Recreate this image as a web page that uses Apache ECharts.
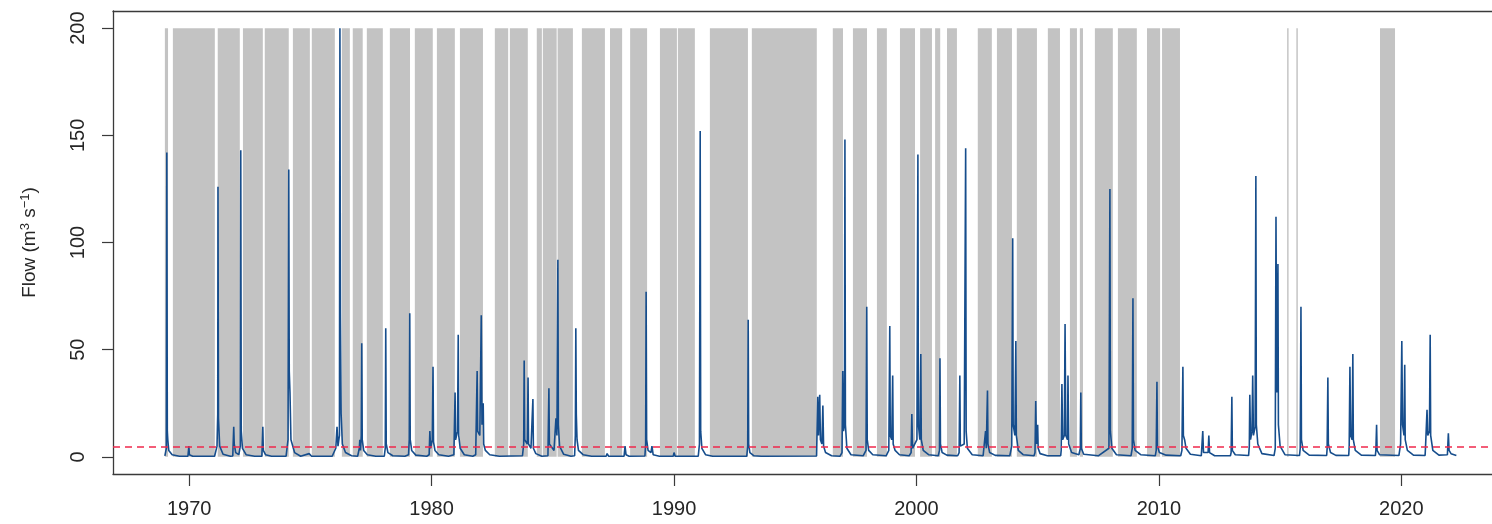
<!DOCTYPE html>
<html>
<head>
<meta charset="utf-8">
<script src="https://cdn.jsdelivr.net/npm/echarts@6/dist/echarts.min.js"></script>
<style>
  html, body { margin: 0; padding: 0; background: #fff; }
  #chart { width: 1492px; height: 524px; }
</style>
</head>
<body>
<div id="chart"></div>
<script>
// Shaded periods, as [start, end] in decimal years
const BANDS = [
  [1969.00, 1969.13], [1969.33, 1971.06], [1971.18, 1972.09], [1972.22, 1973.04],
  [1973.12, 1974.11], [1974.28, 1974.98], [1975.06, 1976.01], [1976.30, 1976.63],
  [1976.75, 1977.16], [1977.33, 1977.99], [1978.28, 1979.11], [1979.31, 1980.05],
  [1980.22, 1980.96], [1981.17, 1982.12], [1982.61, 1983.16], [1983.23, 1983.97],
  [1984.34, 1984.55], [1984.59, 1985.16], [1985.20, 1985.83], [1986.20, 1987.15],
  [1987.36, 1987.86], [1988.19, 1988.89], [1989.42, 1990.12], [1990.16, 1990.86],
  [1991.48, 1993.05], [1993.21, 1995.89], [1996.55, 1996.97], [1997.38, 1997.96],
  [1998.37, 1998.78], [1999.32, 1999.94], [2000.15, 2000.64], [2000.77, 2000.98],
  [2001.26, 2001.67], [2002.53, 2003.11], [2003.32, 2003.94], [2004.14, 2004.97],
  [2005.42, 2005.92], [2006.33, 2006.62], [2006.74, 2006.87], [2007.36, 2008.10],
  [2008.31, 2009.09], [2009.51, 2010.05], [2010.13, 2010.87], [2015.29, 2015.35],
  [2015.67, 2015.73], [2019.12, 2019.74]
];
const BAND_TOP = 200;

// Daily flow record (m3/s) as [decimal year, flow]
const FLOW = [
  [1969.00, 0.5], [1969.06, 4], [1969.08, 142], [1969.10, 12], [1969.12, 8], [1969.16, 3], [1969.30, 1], [1969.60, 0.3],
  [1969.95, 0.3], [1969.99, 5], [1970.01, 1], [1970.15, 0.3],
  [1971.05, 0.3], [1971.15, 5], [1971.18, 20], [1971.19, 126], [1971.21, 18], [1971.26, 5], [1971.40, 1.2], [1971.70, 0.3],
  [1971.80, 0.4], [1971.84, 14], [1971.86, 6], [1971.92, 2], [1972.05, 1], [1972.11, 5], [1972.13, 143], [1972.15, 12], [1972.20, 4], [1972.35, 1], [1972.70, 0.3],
  [1973.00, 0.3], [1973.04, 14], [1973.06, 3], [1973.15, 1], [1973.40, 0.3],
  [1974.00, 0.3], [1974.08, 8], [1974.11, 134], [1974.13, 40], [1974.16, 30], [1974.20, 8], [1974.35, 2], [1974.60, 0.3],
  [1974.95, 1.5], [1975.05, 0.3],
  [1975.90, 0.3], [1976.05, 4], [1976.10, 14], [1976.14, 5], [1976.20, 10], [1976.22, 200], [1976.24, 67], [1976.27, 20], [1976.32, 6], [1976.45, 2], [1976.70, 0.5],
  [1976.95, 0.3], [1977.02, 4], [1977.04, 8], [1977.07, 3], [1977.10, 10], [1977.12, 53], [1977.14, 8], [1977.20, 3], [1977.35, 1], [1977.70, 0.3],
  [1978.05, 0.3], [1978.09, 4], [1978.11, 60], [1978.13, 6], [1978.20, 2], [1978.40, 0.5], [1978.90, 0.3],
  [1979.05, 1], [1979.08, 8], [1979.10, 67], [1979.12, 8], [1979.18, 3], [1979.35, 0.8], [1979.80, 0.3],
  [1979.90, 1], [1979.93, 12], [1979.96, 4], [1980.03, 8], [1980.06, 42], [1980.08, 7], [1980.14, 3], [1980.30, 1], [1980.70, 0.3],
  [1980.92, 1], [1980.97, 30], [1980.99, 8], [1981.07, 12], [1981.10, 57], [1981.12, 10], [1981.18, 4], [1981.35, 1], [1981.70, 0.3],
  [1981.82, 1], [1981.88, 40], [1981.90, 12], [1981.99, 10], [1982.05, 66], [1982.08, 15], [1982.13, 25], [1982.15, 6], [1982.22, 3], [1982.40, 1], [1982.80, 0.3],
  [1983.75, 0.5], [1983.80, 6], [1983.82, 45], [1983.84, 8], [1983.95, 6], [1983.98, 37], [1984.00, 6], [1984.10, 4], [1984.18, 27], [1984.20, 4], [1984.30, 1.5], [1984.55, 0.3],
  [1984.80, 0.5], [1984.84, 32], [1984.86, 6], [1985.05, 3], [1985.13, 18], [1985.17, 10], [1985.21, 92], [1985.23, 15], [1985.28, 5], [1985.45, 1.2], [1985.75, 0.3],
  [1985.90, 0.5], [1985.93, 10], [1985.95, 60], [1985.97, 20], [1986.00, 8], [1986.06, 3], [1986.25, 1], [1986.60, 0.3],
  [1987.20, 0.3], [1987.24, 1.5], [1987.30, 0.3], [1987.94, 0.3], [1987.98, 5], [1988.02, 1], [1988.15, 0.3],
  [1988.80, 0.4], [1988.83, 6], [1988.85, 77], [1988.87, 8], [1988.93, 3], [1989.05, 2], [1989.09, 5], [1989.14, 1], [1989.40, 0.3],
  [1989.97, 0.3], [1990.00, 2], [1990.05, 0.3],
  [1991.00, 0.3], [1991.05, 6], [1991.08, 152], [1991.10, 12], [1991.15, 4], [1991.30, 1], [1991.60, 0.3],
  [1993.00, 0.3], [1993.04, 5], [1993.06, 64], [1993.08, 6], [1993.13, 2], [1993.30, 0.5], [1993.60, 0.3],
  [1995.88, 0.4], [1995.93, 28], [1995.96, 10], [1996.01, 29], [1996.04, 8], [1996.10, 6], [1996.14, 24], [1996.17, 5], [1996.25, 2], [1996.50, 0.5], [1996.85, 0.3],
  [1996.93, 2], [1996.96, 40], [1996.99, 12], [1997.03, 15], [1997.05, 148], [1997.07, 15], [1997.13, 4], [1997.30, 1], [1997.80, 0.5],
  [1997.92, 3], [1997.95, 70], [1997.97, 8], [1998.03, 3], [1998.20, 1], [1998.75, 0.5],
  [1998.86, 3], [1998.90, 61], [1998.92, 10], [1998.98, 8], [1999.02, 38], [1999.04, 6], [1999.12, 3], [1999.30, 1], [1999.70, 0.5],
  [1999.78, 2], [1999.81, 20], [1999.84, 4], [2000.02, 8], [2000.06, 141], [2000.08, 15], [2000.14, 8], [2000.18, 48], [2000.20, 8], [2000.28, 3], [2000.50, 1], [2000.90, 0.5],
  [2000.95, 3], [2000.97, 46], [2000.99, 6], [2001.06, 2], [2001.25, 0.8], [2001.70, 0.5],
  [2001.76, 2], [2001.79, 38], [2001.81, 5], [2001.97, 6], [2002.03, 144], [2002.05, 12], [2002.10, 4], [2002.30, 1], [2002.75, 0.5],
  [2002.82, 1], [2002.85, 12], [2002.88, 4], [2002.93, 31], [2002.95, 6], [2003.02, 2], [2003.25, 0.7], [2003.85, 0.5],
  [2003.93, 5], [2003.97, 102], [2003.99, 15], [2004.06, 10], [2004.10, 54], [2004.12, 10], [2004.20, 3], [2004.40, 1], [2004.85, 0.5],
  [2004.89, 2], [2004.92, 26], [2004.95, 6], [2005.00, 15], [2005.02, 4], [2005.10, 1.5], [2005.40, 0.5], [2005.95, 0.5],
  [2005.97, 3], [2006.00, 34], [2006.03, 8], [2006.10, 10], [2006.13, 62], [2006.16, 10], [2006.23, 8], [2006.25, 38], [2006.28, 6], [2006.40, 2],
  [2006.70, 1], [2006.76, 4], [2006.78, 30], [2006.80, 4], [2006.90, 1.2], [2007.50, 0.5],
  [2007.94, 4], [2007.98, 125], [2008.00, 12], [2008.06, 4], [2008.25, 1], [2008.85, 0.5],
  [2008.90, 4], [2008.93, 74], [2008.95, 8], [2009.02, 3], [2009.25, 1], [2009.85, 0.5],
  [2009.89, 3], [2009.92, 35], [2009.94, 5], [2010.02, 2], [2010.30, 0.8], [2010.90, 0.5],
  [2010.95, 3], [2010.99, 42], [2011.01, 10], [2011.06, 8], [2011.12, 4], [2011.30, 1.2], [2011.75, 0.5],
  [2011.78, 1], [2011.81, 12], [2011.84, 2], [2012.03, 2], [2012.06, 10], [2012.09, 2], [2012.30, 0.5], [2012.95, 0.5],
  [2012.98, 2], [2013.01, 28], [2013.03, 3], [2013.15, 1], [2013.70, 0.6],
  [2013.73, 5], [2013.75, 29], [2013.78, 8], [2013.84, 12], [2013.87, 38], [2013.90, 10], [2013.97, 14], [2014.00, 131], [2014.02, 15], [2014.08, 6], [2014.25, 1.5], [2014.75, 0.6],
  [2014.80, 4], [2014.83, 112], [2014.86, 30], [2014.91, 90], [2014.93, 15], [2015.00, 5], [2015.20, 1], [2015.80, 0.6],
  [2015.83, 4], [2015.86, 70], [2015.88, 8], [2015.95, 3], [2016.20, 0.8], [2016.92, 0.6],
  [2016.94, 4], [2016.97, 37], [2016.99, 6], [2017.08, 2], [2017.30, 0.7], [2017.83, 0.6],
  [2017.85, 5], [2017.88, 42], [2017.91, 10], [2017.97, 8], [2018.00, 48], [2018.02, 8], [2018.10, 3], [2018.35, 0.8], [2018.93, 0.6],
  [2018.95, 3], [2018.98, 15], [2019.00, 3], [2019.10, 1], [2019.90, 0.6],
  [2019.97, 6], [2020.02, 54], [2020.05, 15], [2020.11, 10], [2020.14, 43], [2020.16, 8], [2020.25, 3], [2020.50, 0.8], [2020.98, 0.6],
  [2021.00, 5], [2021.06, 22], [2021.09, 10], [2021.16, 12], [2021.19, 57], [2021.21, 10], [2021.30, 3], [2021.55, 0.8],
  [2021.90, 1], [2021.94, 11], [2021.97, 3], [2022.05, 1.5], [2022.27, 0.6]
];

// Low-flow threshold (m3/s)
const THRESHOLD = 4.7;

// Axis tick positions
const X_TICKS = [1970, 1980, 1990, 2000, 2010, 2020];
const Y_TICKS = [0, 50, 100, 150, 200];

const FONT = '"Liberation Sans", Arial, Helvetica, sans-serif';
const INK = '#262626';
const FRAME = '#3a3a3a';

const X_MIN = 1966.86, X_MAX = 2023.74;

const chart = echarts.init(document.getElementById('chart'), null, { renderer: 'canvas' });

chart.setOption({
  animation: false,
  backgroundColor: '#ffffff',
  grid: { left: 113, top: 11, bottom: 50, right: 0, show: false, containLabel: false },
  xAxis: [
    {
      type: 'value', position: 'bottom',
      min: X_MIN, max: X_MAX,
      axisLine: { show: true, onZero: false, lineStyle: { color: FRAME, width: 1.3 } },
      splitLine: { show: false },
      axisTick: {
        show: true, customValues: X_TICKS, length: 12, inside: false,
        lineStyle: { color: FRAME, width: 1.2 }
      },
      axisLabel: {
        customValues: X_TICKS, margin: 25,
        fontFamily: FONT, fontSize: 20, color: INK,
        formatter: v => String(v)
      }
    },
    {
      // top edge of the plot frame
      type: 'value', position: 'top',
      min: X_MIN, max: X_MAX,
      axisLine: { show: true, onZero: false, lineStyle: { color: FRAME, width: 1.3 } },
      axisTick: { show: false }, axisLabel: { show: false }, splitLine: { show: false }
    }
  ],
  yAxis: {
    type: 'value',
    min: -8, max: 208,
    axisLine: { show: true, onZero: false, lineStyle: { color: FRAME, width: 1.3 } },
    splitLine: { show: false },
    axisTick: {
      show: true, customValues: Y_TICKS, length: 11, inside: false,
      lineStyle: { color: FRAME, width: 1.2 }
    },
    axisLabel: {
      customValues: Y_TICKS, rotate: 90, margin: 25,
      fontFamily: FONT, fontSize: 20, color: INK,
      formatter: v => String(v)
    },
    name: 'Flow (m{sup|3} s{sup|−1})',
    nameLocation: 'middle',
    nameRotate: 90,
    nameGap: 72,
    nameTextStyle: {
      fontFamily: FONT, fontSize: 19, color: INK,
      rich: {
        sup: { fontFamily: FONT, fontSize: 13, color: INK, verticalAlign: 'bottom', padding: [0, 0, 9, 0] }
      }
    }
  },
  series: [
    {
      name: 'bands',
      type: 'custom',
      z: 1,
      silent: true,
      clip: true,
      encode: { x: [0, 1] },
      data: BANDS,
      renderItem: function (params, api) {
        const p0 = api.coord([api.value(0), BAND_TOP]);
        const p1 = api.coord([api.value(1), 0]);
        return {
          type: 'rect',
          shape: { x: p0[0], y: p0[1], width: Math.max(p1[0] - p0[0], 1.2), height: p1[1] - p0[1] },
          style: { fill: '#c3c3c3' }
        };
      }
    },
    {
      name: 'flow',
      type: 'line',
      z: 3,
      data: FLOW,
      showSymbol: false,
      symbol: 'none',
      sampling: null,
      lineStyle: { color: '#164d8c', width: 1.6 },
      clip: true,
      markLine: {
        silent: true,
        symbol: 'none',
        z: 5,
        label: { show: false },
        lineStyle: { color: '#f0284c', width: 1.6, type: [7, 5] },
        data: [{ yAxis: THRESHOLD }]
      }
    }
  ]
});
</script>
</body>
</html>
